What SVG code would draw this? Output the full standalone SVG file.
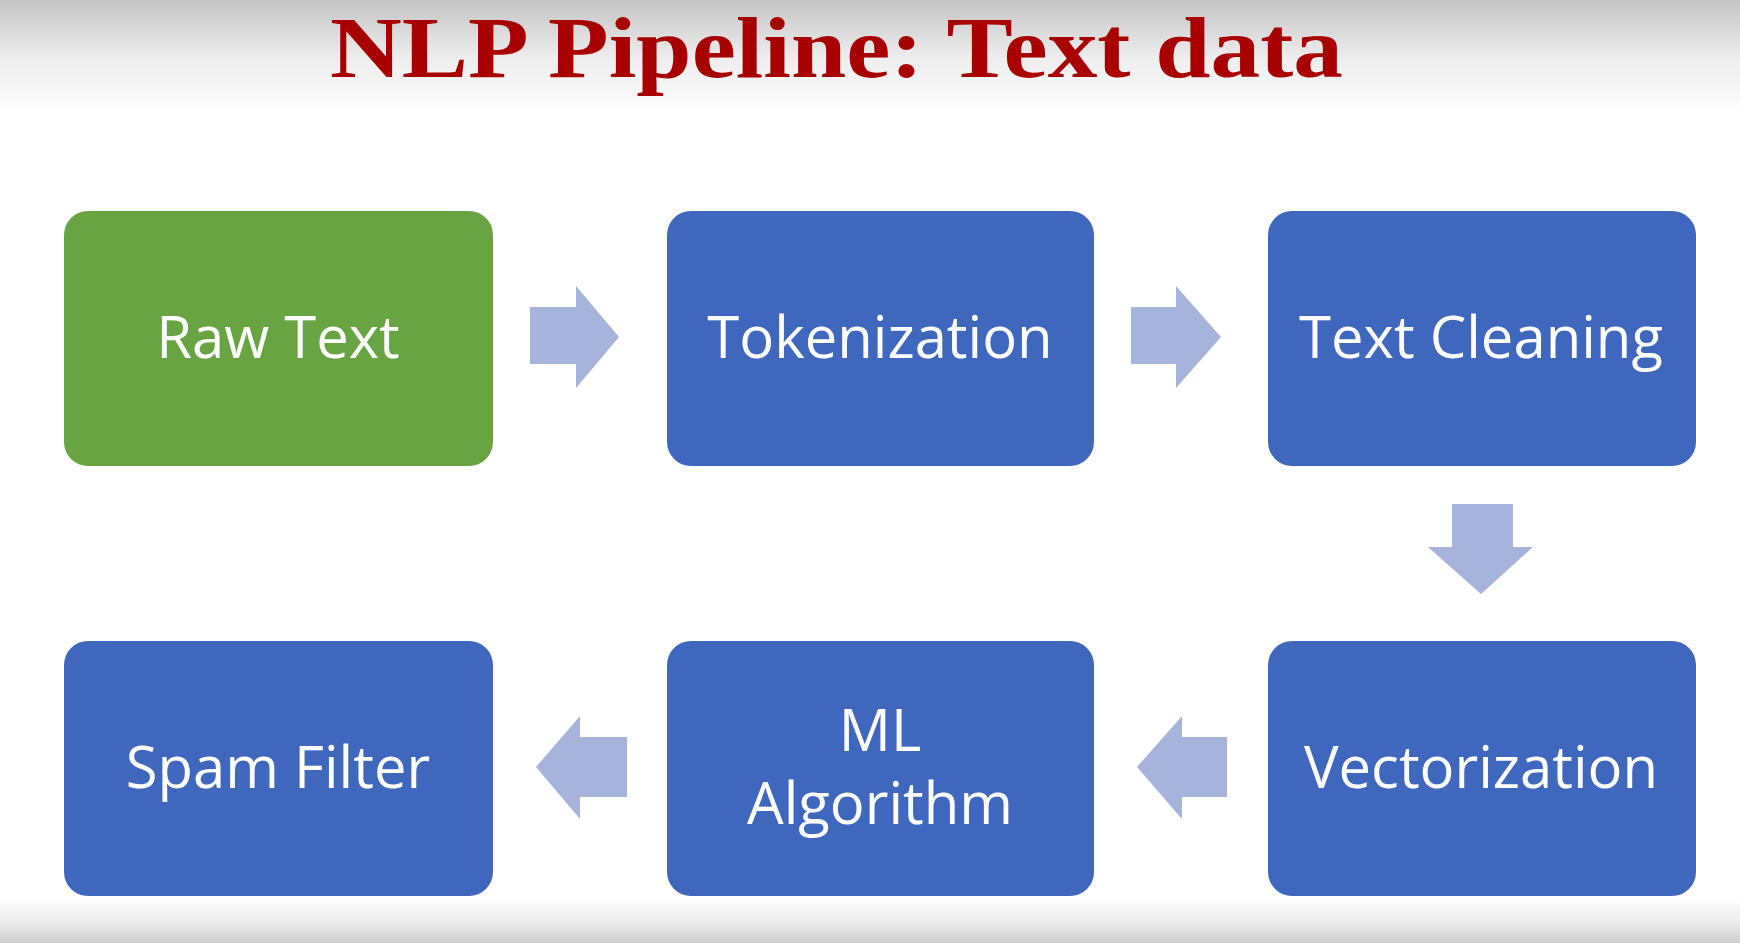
<svg xmlns="http://www.w3.org/2000/svg" width="1740" height="943" viewBox="0 0 1740 943">
<defs>
<linearGradient id="topg" x1="0" y1="0" x2="0" y2="1">
<stop offset="0" stop-color="#c4c4c4"/>
<stop offset="0.5" stop-color="#ededed"/>
<stop offset="1" stop-color="#ffffff"/>
</linearGradient>
<linearGradient id="botg" x1="0" y1="0" x2="0" y2="1">
<stop offset="0" stop-color="#ffffff"/>
<stop offset="0.5" stop-color="#eeeeee"/>
<stop offset="1" stop-color="#cdcdcd"/>
</linearGradient>
<style>
.title{font-family:"Liberation Serif","Times New Roman",serif;font-weight:bold;font-size:86px;fill:#a80000}
.box{fill:#3f67bd}
.green{fill:#68a442}
.lbl{font-family:"Open Sans","Liberation Sans",sans-serif;font-size:58px;fill:#ffffff;text-anchor:middle}
.arr{fill:#a6b3da}
</style>
</defs>
<rect x="0" y="0" width="1740" height="943" fill="#ffffff"/>
<rect x="0" y="0" width="1740" height="115" fill="url(#topg)"/>
<rect x="0" y="898" width="1740" height="45" fill="url(#botg)"/>
<text class="title" x="330" y="77" textLength="1013" lengthAdjust="spacingAndGlyphs">NLP Pipeline: Text data</text>
<g id="connectors">
<polygon class="arr" points="530,307 576,307 576,286 619,337 576,388 576,364 530,364"/>
<polygon class="arr" points="1131,307 1176,307 1176,286 1221,337 1176,388 1176,364 1131,364"/>
<polygon class="arr" points="1452,504 1513,504 1513,547 1533,547 1481,594 1428,547 1452,547"/>
<polygon class="arr" points="1227,737 1182,737 1182,716 1137,767 1182,819 1182,797 1227,797"/>
<polygon class="arr" points="627,737 580,737 580,716 536,767 580,819 580,797 627,797"/>
</g>
<g id="raw-text">
<rect class="green" x="64" y="211" width="429" height="255" rx="24"/>
<text class="lbl" x="278" y="358">Raw Text</text>
</g>
<g id="tokenization">
<rect class="box" x="667" y="211" width="427" height="255" rx="24"/>
<text class="lbl" x="880" y="358">Tokenization</text>
</g>
<g id="text-cleaning">
<rect class="box" x="1268" y="211" width="428" height="255" rx="24"/>
<text class="lbl" x="1481" y="358">Text Cleaning</text>
</g>
<g id="vectorization">
<rect class="box" x="1268" y="641" width="428" height="255" rx="24"/>
<text class="lbl" x="1481" y="788">Vectorization</text>
</g>
<g id="ml-algorithm">
<rect class="box" x="667" y="641" width="427" height="255" rx="24"/>
<text class="lbl" x="880" y="751">ML</text>
<text class="lbl" x="880" y="824">Algorithm</text>
</g>
<g id="spam-filter">
<rect class="box" x="64" y="641" width="429" height="255" rx="24"/>
<text class="lbl" x="278" y="788">Spam Filter</text>
</g>
</svg>
